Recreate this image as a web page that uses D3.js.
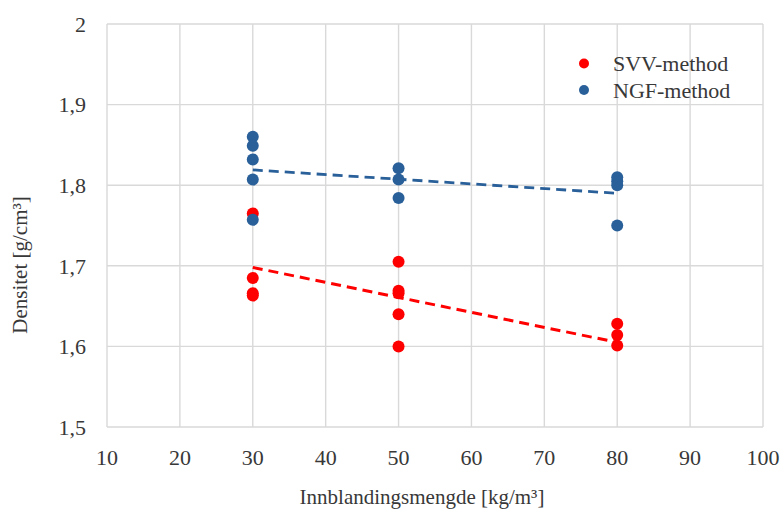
<!DOCTYPE html>
<html><head><meta charset="utf-8">
<script src="https://cdn.jsdelivr.net/npm/d3@7"></script>
<style>html,body{margin:0;padding:0;background:#fff;}svg{display:block;}</style>
</head><body>
<svg id="c" width="784" height="509"></svg>
<script>
const xTicks = [10,20,30,40,50,60,70,80,90,100];
const yTicks = [1.5,1.6,1.7,1.8,1.9,2.0];
const svvX = [30,30,30,30,50,50,50,50,50,80,80,80];
const svvY = [1.765,1.685,1.666,1.663,1.705,1.669,1.666,1.640,1.600,1.628,1.614,1.601];
const ngfX = [30,30,30,30,30,50,50,50,80,80,80,80];
const ngfY = [1.860,1.849,1.832,1.807,1.757,1.821,1.807,1.784,1.810,1.805,1.800,1.750];
const svvTrendX = [30,80], svvTrendY = [1.698,1.605];
const ngfTrendX = [30,80], ngfTrendY = [1.819,1.790];
const seriesNames = ["SVV-method","NGF-method"];
const colors = ["#ff0000","#2a6099"];

const svg = d3.select("#c");
const m = {l:107,r:763,t:24,b:427};
const x = d3.scaleLinear().domain([10,100]).range([m.l,m.r]);
const y = d3.scaleLinear().domain([1.5,2.0]).range([m.b,m.t]);
const font = "'Liberation Serif','Times New Roman',serif";
const tc = "#383838";

// grid
svg.append("g").selectAll("line").data(xTicks).join("line")
  .attr("x1",d=>x(d)).attr("x2",d=>x(d)).attr("y1",m.t).attr("y2",m.b)
  .attr("stroke","#d9d9d9").attr("stroke-width",1.4);
svg.append("g").selectAll("line").data(yTicks).join("line")
  .attr("y1",d=>y(d)).attr("y2",d=>y(d)).attr("x1",m.l).attr("x2",m.r)
  .attr("stroke","#d9d9d9").attr("stroke-width",1.4);

// tick labels
const fmt = d => d3.format(".1f")(d).replace(".",",");
svg.append("g").selectAll("text").data(yTicks).join("text")
  .attr("x",86).attr("y",d=>y(d)).attr("dy","0.35em").attr("text-anchor","end")
  .attr("font-family",font).attr("font-size",22).attr("fill",tc)
  .text(d=> d===2 ? "2" : fmt(d));
svg.append("g").selectAll("text").data(xTicks).join("text")
  .attr("x",d=>x(d)).attr("y",465).attr("text-anchor","middle")
  .attr("font-family",font).attr("font-size",22).attr("fill",tc)
  .text(d=>d);

// titles
svg.append("text").attr("x",422).attr("y",504).attr("text-anchor","middle")
  .attr("font-family",font).attr("font-size",21).attr("fill",tc)
  .text("Innblandingsmengde [kg/m³]");
svg.append("text").attr("transform","translate(27,265) rotate(-90)").attr("text-anchor","middle")
  .attr("font-family",font).attr("font-size",21).attr("fill",tc)
  .text("Densitet [g/cm³]");

// points
svg.append("g").selectAll("circle").data(svvX.map((d,i)=>[d,svvY[i]])).join("circle")
  .attr("cx",d=>x(d[0])).attr("cy",d=>y(d[1])).attr("r",6).attr("fill",colors[0]);
svg.append("g").selectAll("circle").data(ngfX.map((d,i)=>[d,ngfY[i]])).join("circle")
  .attr("cx",d=>x(d[0])).attr("cy",d=>y(d[1])).attr("r",6).attr("fill",colors[1]);

// trend lines
const line = d3.line().x(d=>x(d[0])).y(d=>y(d[1]));
svg.append("path").datum(svvTrendX.map((d,i)=>[d,svvTrendY[i]])).attr("d",line)
  .attr("fill","none").attr("stroke",colors[0]).attr("stroke-width",3).attr("stroke-dasharray","10,6");
svg.append("path").datum(ngfTrendX.map((d,i)=>[d,ngfTrendY[i]])).attr("d",line)
  .attr("fill","none").attr("stroke",colors[1]).attr("stroke-width",2.8).attr("stroke-dasharray","10,6");

// legend
const lg = svg.append("g");
seriesNames.forEach((n,i)=>{
  lg.append("circle").attr("cx",584).attr("cy",63.5+i*26.5).attr("r",5).attr("fill",colors[i]);
  lg.append("text").attr("x",613).attr("y",71+i*26.5).attr("font-family",font).attr("font-size",22)
    .attr("fill",tc).text(n);
});
</script>
</body></html>
